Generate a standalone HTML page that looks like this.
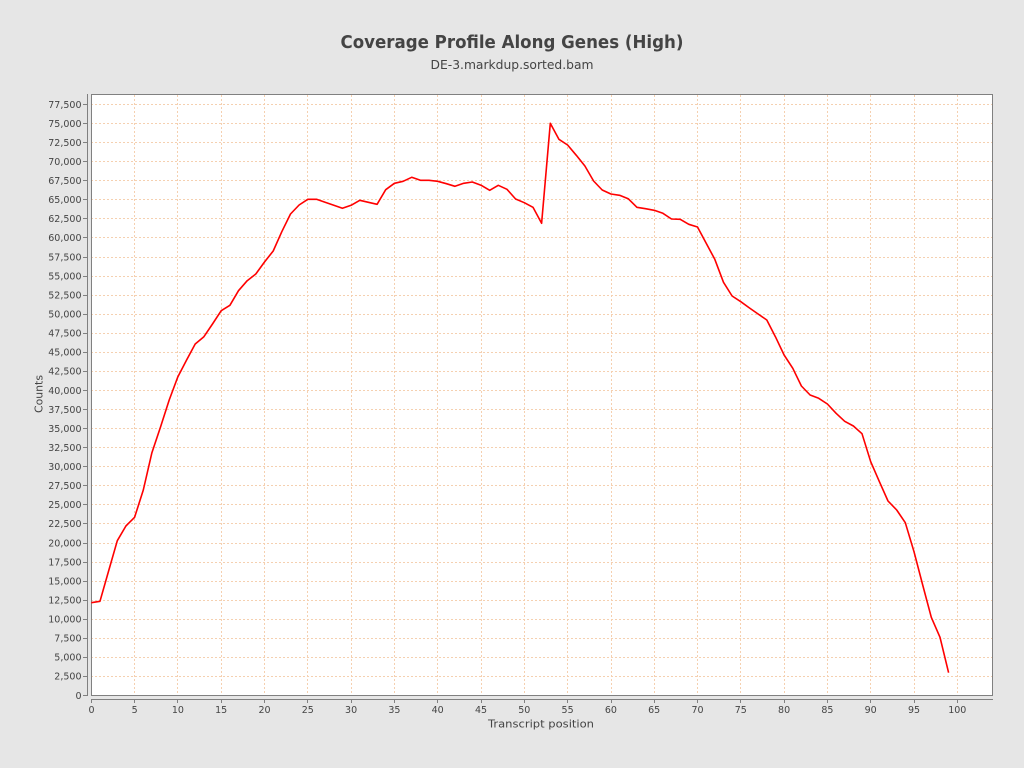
<!DOCTYPE html>
<html>
<head>
<meta charset="utf-8">
<style>
html,body{margin:0;padding:0;background:#e6e6e6;}
svg{display:block;}
text{font-family:"DejaVu Sans","Liberation Sans",sans-serif;fill:#444;}
</style>
</head>
<body>
<svg width="1024" height="768" viewBox="0 0 1024 768" xmlns="http://www.w3.org/2000/svg">
<rect x="0" y="0" width="1024" height="768" fill="#e6e6e6"/>
<text x="512" y="48" font-size="18" font-weight="bold" text-anchor="middle" textLength="343" lengthAdjust="spacingAndGlyphs">Coverage Profile Along Genes (High)</text>
<text x="512" y="69" font-size="12" text-anchor="middle" textLength="163" lengthAdjust="spacingAndGlyphs">DE-3.markdup.sorted.bam</text>

<rect x="91" y="94.5" width="901.5" height="601" fill="#ffffff"/>

<g stroke="#f5d0b0" stroke-width="1" stroke-dasharray="2,2" fill="none">
<path d="M91 676.5H992M91 657.5H992M91 638.5H992M91 619.5H992M91 600.5H992M91 581.5H992M91 562.5H992M91 543.5H992M91 523.5H992M91 504.5H992M91 485.5H992M91 466.5H992M91 447.5H992M91 428.5H992M91 409.5H992M91 390.5H992M91 371.5H992M91 352.5H992M91 333.5H992M91 314.5H992M91 295.5H992M91 276.5H992M91 257.5H992M91 237.5H992M91 218.5H992M91 199.5H992M91 180.5H992M91 161.5H992M91 142.5H992M91 123.5H992M91 104.5H992"/>
<path d="M134.5 95V695M177.5 95V695M221.5 95V695M264.5 95V695M307.5 95V695M351.5 95V695M394.5 95V695M437.5 95V695M481.5 95V695M524.5 95V695M567.5 95V695M611.5 95V695M654.5 95V695M697.5 95V695M740.5 95V695M784.5 95V695M827.5 95V695M870.5 95V695M914.5 95V695M957.5 95V695"/>
</g>

<rect x="91.5" y="94.5" width="901" height="601" fill="none" stroke="#808080" stroke-width="1"/>

<!-- axes -->
<g stroke="#808080" stroke-width="1" fill="none">
<path d="M87.5 94V696"/>
<path d="M91 699.5H993"/>
<path d="M83 695.5H87.5M83 676.5H87.5M83 657.5H87.5M83 638.5H87.5M83 619.5H87.5M83 600.5H87.5M83 581.5H87.5M83 562.5H87.5M83 543.5H87.5M83 523.5H87.5M83 504.5H87.5M83 485.5H87.5M83 466.5H87.5M83 447.5H87.5M83 428.5H87.5M83 409.5H87.5M83 390.5H87.5M83 371.5H87.5M83 352.5H87.5M83 333.5H87.5M83 314.5H87.5M83 295.5H87.5M83 276.5H87.5M83 257.5H87.5M83 237.5H87.5M83 218.5H87.5M83 199.5H87.5M83 180.5H87.5M83 161.5H87.5M83 142.5H87.5M83 123.5H87.5M83 104.5H87.5"/>
<path d="M91.5 699.5V703M134.5 699.5V703M177.5 699.5V703M221.5 699.5V703M264.5 699.5V703M307.5 699.5V703M351.5 699.5V703M394.5 699.5V703M437.5 699.5V703M481.5 699.5V703M524.5 699.5V703M567.5 699.5V703M611.5 699.5V703M654.5 699.5V703M697.5 699.5V703M740.5 699.5V703M784.5 699.5V703M827.5 699.5V703M870.5 699.5V703M914.5 699.5V703M957.5 699.5V703"/>
</g>

<!-- y tick labels -->
<g font-size="9.5" text-anchor="end">
<text x="81.5" y="698.8">0</text>
<text x="81.5" y="679.7">2,500</text>
<text x="81.5" y="660.7">5,000</text>
<text x="81.5" y="641.6">7,500</text>
<text x="81.5" y="622.5">10,000</text>
<text x="81.5" y="603.5">12,500</text>
<text x="81.5" y="584.4">15,000</text>
<text x="81.5" y="565.3">17,500</text>
<text x="81.5" y="546.3">20,000</text>
<text x="81.5" y="527.2">22,500</text>
<text x="81.5" y="508.2">25,000</text>
<text x="81.5" y="489.1">27,500</text>
<text x="81.5" y="470.0">30,000</text>
<text x="81.5" y="451.0">32,500</text>
<text x="81.5" y="431.9">35,000</text>
<text x="81.5" y="412.8">37,500</text>
<text x="81.5" y="393.8">40,000</text>
<text x="81.5" y="374.7">42,500</text>
<text x="81.5" y="355.6">45,000</text>
<text x="81.5" y="336.6">47,500</text>
<text x="81.5" y="317.5">50,000</text>
<text x="81.5" y="298.4">52,500</text>
<text x="81.5" y="279.4">55,000</text>
<text x="81.5" y="260.3">57,500</text>
<text x="81.5" y="241.2">60,000</text>
<text x="81.5" y="222.2">62,500</text>
<text x="81.5" y="203.1">65,000</text>
<text x="81.5" y="184.0">67,500</text>
<text x="81.5" y="165.0">70,000</text>
<text x="81.5" y="145.9">72,500</text>
<text x="81.5" y="126.9">75,000</text>
<text x="81.5" y="107.8">77,500</text>
</g>

<!-- x tick labels -->
<g font-size="9.5" text-anchor="middle">
<text x="91.5" y="713">0</text>
<text x="134.6" y="713">5</text>
<text x="177.9" y="713">10</text>
<text x="221.2" y="713">15</text>
<text x="264.5" y="713">20</text>
<text x="307.8" y="713">25</text>
<text x="351.1" y="713">30</text>
<text x="394.4" y="713">35</text>
<text x="437.7" y="713">40</text>
<text x="481.0" y="713">45</text>
<text x="524.3" y="713">50</text>
<text x="567.6" y="713">55</text>
<text x="610.9" y="713">60</text>
<text x="654.2" y="713">65</text>
<text x="697.5" y="713">70</text>
<text x="740.8" y="713">75</text>
<text x="784.1" y="713">80</text>
<text x="827.4" y="713">85</text>
<text x="870.7" y="713">90</text>
<text x="914.0" y="713">95</text>
<text x="957.3" y="713">100</text>
</g>

<text x="541" y="727.5" font-size="11" text-anchor="middle" textLength="106" lengthAdjust="spacingAndGlyphs">Transcript position</text>
<text x="42.5" y="394" font-size="11" text-anchor="middle" transform="rotate(-90 42.5 394)" textLength="38" lengthAdjust="spacingAndGlyphs">Counts</text>

<!-- data line -->
<polyline fill="none" stroke="#ff0000" stroke-width="1.6" stroke-linejoin="round" points="
91.3,602.7 99.96,601.3 108.6,571 117.3,540.7 125.9,526 134.6,517.3 143.3,490 151.9,452.7 160.6,426.7 169.2,400
177.9,376.7 186.6,360 195.2,344 203.9,336.7 212.5,324 221.2,310.7 229.9,305.3 238.5,290.7 247.2,280.7 255.8,274
264.5,262 273.2,251 281.8,231.7 290.5,214 299.1,205 307.8,199.3 316.5,199.3 325.1,202.3 333.8,205.3 342.4,208.3
351.1,205.3 359.8,200.3 368.4,202.3 377.1,204.3 385.7,189.7 394.4,183.3 403.1,181.3 411.7,177.3 420.4,180.3 429,180.3
437.7,181.3 446.4,183.7 455,186.3 463.7,183.3 472.3,182 481,185.2 489.7,190.3 498.3,185.3 507,189.3 515.6,199
524.3,202.7 533,207.3 541.6,223.3 550.3,123.3 558.9,139.3 567.6,145 576.3,155.3 584.9,166 593.6,181 602.2,190
610.9,194 619.6,195.3 628.2,198.7 636.9,207.3 645.5,208.7 654.2,210.3 662.9,213.3 671.5,219 680.2,219.3 688.8,224.3
697.5,227 706.2,243.3 714.8,259.3 723.5,282.3 732.1,296 740.8,301.7 749.5,308 758.1,314 766.8,320 775.4,336.7
784.1,355 792.8,368.3 801.4,386 810.1,395 818.7,398.3 827.4,404 836.1,413.3 844.7,421.3 853.4,426 862,433.7
870.7,461.7 879.4,481.7 888,501 896.7,510 905.3,522.7 914,551.7 922.7,585 931.3,617.3 940,637.3 948.6,672.7"/>
</svg>
</body>
</html>
